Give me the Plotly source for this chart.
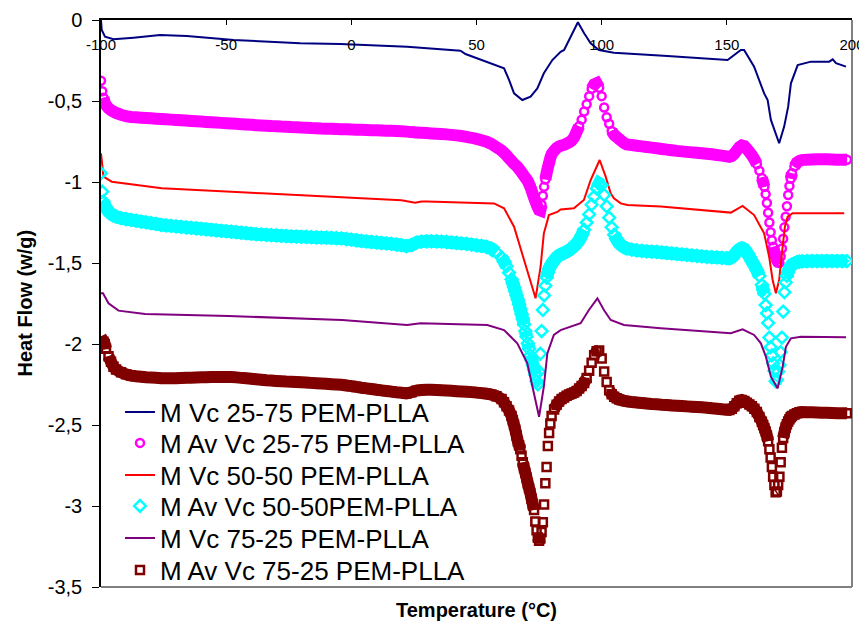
import plotly.graph_objects as go

# ---------------- data ----------------
X_TICKS = [-100, -50, 0, 50, 100, 150, 200]
X_TICK_TEXT = ["-100", "-50", "0", "50", "100", "150", "200"]
Y_TICKS = [0, -0.5, -1, -1.5, -2, -2.5, -3, -3.5]
Y_TICK_TEXT = ["0", "-0,5", "-1", "-1,5", "-2", "-2,5", "-3", "-3,5"]

NAMES = ["M Vc 25-75 PEM-PLLA", "M Av Vc 25-75 PEM-PLLA", "M Vc 50-50 PEM-PLLA",
         "M Av Vc 50-50PEM-PLLA", "M Vc 75-25 PEM-PLLA", "M Av Vc 75-25 PEM-PLLA"]

# line series (own temperature points)
vc2575_t = [-100, -99.7, -98.4, -95, -87, -76.4, -65.7, -47, -20.4, -4.4, 22.3, 43.6, 45.6, 54.3,
            61, 63, 65, 68.3, 71.6, 74.3, 76.9, 80.3, 83.6, 85, 87.6, 90.5, 93, 95.6, 98.9, 104.9,
            126.3, 150.3, 155.6, 156.9, 160.9, 164.9, 166.3, 167.6, 170.9, 172.9, 174.5, 175.6,
            178.3, 183.6, 190.9, 192.3, 193.6, 197.6]
vc2575_v = [0, -0.062, -0.103, -0.119, -0.109, -0.093, -0.099, -0.123, -0.144, -0.148, -0.165, -0.19,
            -0.21, -0.257, -0.298, -0.37, -0.453, -0.494, -0.473, -0.422, -0.329, -0.247, -0.196,
            -0.185, -0.103, -0.014, -0.082, -0.144, -0.185, -0.202, -0.222, -0.247, -0.185, -0.185,
            -0.288, -0.453, -0.494, -0.617, -0.761, -0.658, -0.535, -0.391, -0.278, -0.257, -0.257,
            -0.243, -0.267, -0.288]

vc5050_t = [-100, -99, -95.7, -75.7, -35.7, -3.7, 20, 25.5, 28, 30.3, 57, 61, 65, 69, 72.3, 73.6,
            75.6, 76.3, 76.9, 78.3, 78.9, 82.3, 83.6, 88.9, 92.9, 95.6, 99.2, 101.6, 103.6, 104.9,
            107.6, 110.3, 123.6, 151.6, 156.3, 160.9, 164.9, 166.9, 168.3, 169.6, 170.9, 172.3,
            173.2, 174.3, 176.3, 196.9]
vc5050_v = [-0.823, -0.967, -0.998, -1.039, -1.07, -1.095, -1.113, -1.128, -1.12, -1.121, -1.132,
            -1.162, -1.276, -1.481, -1.646, -1.718, -1.523, -1.40, -1.317, -1.24, -1.204, -1.185,
            -1.17, -1.162, -1.111, -0.988, -0.864, -0.967, -1.07, -1.10, -1.132, -1.142, -1.152,
            -1.189, -1.148, -1.204, -1.317, -1.461, -1.605, -1.687, -1.605, -1.399, -1.276, -1.214,
            -1.193, -1.193]

vc7525_t = [-100, -99.2, -97, -93, -82.4, -49, -3.7, 22.3, 27.6, 54.3, 61, 66.3, 70.3, 73, 75, 76.9,
            78.3, 80.9, 83.6, 91.6, 94.9, 98.3, 100.9, 103.6, 108.9, 123.6, 151.6, 156.3, 160.9,
            163.6, 165.6, 167.6, 170.3, 172.3, 173.6, 175.6, 179.6, 197.6]
vc7525_v = [-1.687, -1.687, -1.749, -1.794, -1.815, -1.827, -1.852, -1.883, -1.872, -1.883, -1.914,
            -1.996, -2.119, -2.304, -2.449, -2.263, -2.058, -1.944, -1.914, -1.872, -1.79, -1.718,
            -1.79, -1.852, -1.883, -1.903, -1.934, -1.909, -1.944, -1.996, -2.078, -2.202, -2.274,
            -2.14, -2.017, -1.965, -1.955, -1.959]

# marker series share one temperature grid
av_t = [
    -100, -99.5, -99, -98.5, -98, -97, -96, -95, -94, -92, -90,
    -88, -86, -84, -82, -80, -78, -76, -74, -72, -70,
    -68, -66, -64, -62, -60, -58, -56, -54, -52, -50,
    -48, -46, -44, -42, -40, -38, -36, -34, -32, -30,
    -28, -26, -24, -22, -20, -18, -16, -14, -12, -10,
    -8, -6, -4, -2, 0, 2, 4, 6, 8, 10,
    12, 14, 16, 18, 20, 22, 24, 26, 28, 30,
    32, 34, 36, 38, 40, 42, 44, 46, 48, 50,
    52, 54, 56, 58, 60, 61, 62, 63, 64,
    64.5, 65, 65.5, 66, 66.5, 67, 67.5, 68, 68.5, 69,
    69.5, 70, 70.5, 71, 71.5, 72, 72.5, 73, 73.5, 74,
    74.5, 75, 75.5, 76, 76.5, 77, 77.5, 78, 78.5, 79,
    79.5, 80,
    81, 82, 83, 84, 85, 86, 87, 88, 89, 90,
    91, 92, 93, 94, 95, 96, 97, 98, 99, 100,
    101, 102, 103, 104, 105, 106, 107, 108, 109, 110,
    112, 114, 116, 118, 120, 122, 124, 126, 128, 130,
    132, 134, 136, 138, 140, 142, 144, 146, 148, 150,
    151, 152, 153, 154, 155, 156, 157, 158, 159, 160, 161, 162, 163, 164,
    164.5, 165, 165.5, 166, 166.5, 167, 167.5, 168, 168.5, 169,
    169.5, 170, 170.5, 171, 171.5, 172, 172.5, 173, 173.5, 174,
    174.5, 175, 175.5, 176,
    177, 178, 179, 180, 182, 184, 186, 188, 190, 192, 194, 196, 198]

av2575_v = [
    -0.375, -0.44, -0.48, -0.51, -0.525, -0.545, -0.557, -0.566, -0.574, -0.585, -0.594,
    -0.599, -0.601, -0.603, -0.605, -0.607, -0.609, -0.611, -0.613, -0.615, -0.617,
    -0.619, -0.621, -0.623, -0.625, -0.627, -0.629, -0.631, -0.633, -0.635, -0.637,
    -0.639, -0.641, -0.643, -0.645, -0.647, -0.649, -0.651, -0.653, -0.655, -0.656,
    -0.658, -0.659, -0.661, -0.662, -0.664, -0.665, -0.667, -0.668, -0.670, -0.671,
    -0.672, -0.673, -0.674, -0.675, -0.676, -0.677, -0.678, -0.679, -0.680, -0.681,
    -0.682, -0.683, -0.684, -0.685, -0.687, -0.689, -0.692, -0.694, -0.696, -0.698,
    -0.700, -0.702, -0.704, -0.706, -0.709, -0.712, -0.716, -0.721, -0.727, -0.734,
    -0.742, -0.751, -0.765, -0.785, -0.805, -0.82, -0.836, -0.853, -0.87,
    -0.879, -0.887, -0.894, -0.901, -0.91, -0.92, -0.93, -0.94, -0.951, -0.962,
    -0.973, -0.983, -0.995, -1.012, -1.03, -1.05, -1.075, -1.097, -1.118, -1.138,
    -1.157, -1.172, -1.175, -1.14, -1.085, -1.03, -0.985, -0.946, -0.91, -0.882,
    -0.85, -0.828,
    -0.808, -0.79, -0.78, -0.774, -0.77, -0.763, -0.755, -0.744, -0.725, -0.69,
    -0.655, -0.615, -0.565, -0.52, -0.47, -0.425, -0.398, -0.391, -0.418, -0.47,
    -0.54, -0.6, -0.64, -0.685, -0.71, -0.722, -0.735, -0.748, -0.76, -0.768,
    -0.772, -0.776, -0.78, -0.784, -0.788, -0.792, -0.796, -0.800, -0.804, -0.808,
    -0.811, -0.814, -0.817, -0.82, -0.823, -0.826, -0.829, -0.833, -0.837, -0.842,
    -0.845, -0.84, -0.825, -0.805, -0.785, -0.774, -0.778, -0.795, -0.815, -0.835, -0.86, -0.89, -0.93, -0.975,
    -1.0, -1.03, -1.075, -1.13, -1.19, -1.25, -1.31, -1.36, -1.4, -1.43,
    -1.46, -1.48, -1.495, -1.5, -1.46, -1.41, -1.35, -1.28, -1.215, -1.15,
    -1.08, -1.025, -0.98, -0.945,
    -0.905, -0.88, -0.87, -0.865, -0.862, -0.861, -0.86, -0.86, -0.86, -0.861, -0.862, -0.862, -0.863]

av5050_v = [
    -0.946, -1.06, -1.12, -1.145, -1.16, -1.182, -1.197, -1.207, -1.214, -1.223, -1.229,
    -1.234, -1.239, -1.244, -1.249, -1.254, -1.259, -1.264, -1.268, -1.271, -1.274,
    -1.277, -1.280, -1.283, -1.286, -1.289, -1.292, -1.295, -1.298, -1.301, -1.304,
    -1.307, -1.310, -1.313, -1.316, -1.319, -1.322, -1.324, -1.326, -1.328, -1.330,
    -1.332, -1.334, -1.336, -1.337, -1.338, -1.339, -1.341, -1.342, -1.343, -1.344,
    -1.345, -1.347, -1.348, -1.352, -1.356, -1.360, -1.364, -1.367, -1.370, -1.373,
    -1.376, -1.379, -1.382, -1.386, -1.390, -1.396, -1.390, -1.374, -1.368, -1.366,
    -1.366, -1.367, -1.368, -1.370, -1.373, -1.376, -1.379, -1.382, -1.386, -1.391,
    -1.395, -1.400, -1.412, -1.435, -1.465, -1.49, -1.52, -1.56, -1.60,
    -1.625, -1.65, -1.675, -1.70, -1.725, -1.755, -1.785, -1.815, -1.845, -1.88,
    -1.92, -1.955, -1.995, -2.03, -2.07, -2.10, -2.13, -2.16, -2.19, -2.23,
    -2.25, -2.17, -2.06, -1.92, -1.79, -1.70, -1.64, -1.59, -1.56, -1.535,
    -1.52, -1.505,
    -1.485, -1.465, -1.452, -1.445, -1.438, -1.43, -1.422, -1.41, -1.395, -1.38,
    -1.36, -1.33, -1.295, -1.25, -1.2, -1.14, -1.09, -1.04, -1.01, -1.02,
    -1.08, -1.15, -1.22, -1.28, -1.325, -1.355, -1.378, -1.393, -1.403, -1.41,
    -1.418, -1.422, -1.425, -1.428, -1.43, -1.432, -1.435, -1.438, -1.441, -1.444,
    -1.447, -1.45, -1.453, -1.456, -1.459, -1.462, -1.464, -1.466, -1.468, -1.47,
    -1.471, -1.465, -1.45, -1.43, -1.415, -1.409, -1.415, -1.435, -1.46, -1.49, -1.515, -1.545, -1.58, -1.635,
    -1.665, -1.69, -1.76, -1.81, -1.87, -1.96, -2.02, -2.07, -2.12, -2.165,
    -2.23, -2.22, -2.17, -2.13, -2.05, -1.96, -1.80, -1.68, -1.62, -1.58,
    -1.555, -1.535, -1.52, -1.51,
    -1.502, -1.495, -1.492, -1.49, -1.489, -1.488, -1.488, -1.488, -1.488, -1.488, -1.488, -1.488, -1.488]

av7525_v = [
    -2.00, -1.99, -1.986, -2.0, -2.03, -2.075, -2.11, -2.14, -2.158, -2.175, -2.187,
    -2.195, -2.199, -2.202, -2.205, -2.207, -2.209, -2.211, -2.212, -2.212, -2.211,
    -2.21, -2.209, -2.208, -2.207, -2.206, -2.205, -2.204, -2.203, -2.203, -2.203,
    -2.204, -2.206, -2.209, -2.212, -2.215, -2.218, -2.221, -2.224, -2.226, -2.228,
    -2.23, -2.232, -2.233, -2.234, -2.236, -2.238, -2.24, -2.242, -2.244, -2.246,
    -2.248, -2.25, -2.252, -2.256, -2.26, -2.265, -2.27, -2.274, -2.278, -2.282,
    -2.286, -2.29, -2.294, -2.298, -2.301, -2.305, -2.298, -2.288, -2.284, -2.283,
    -2.283, -2.284, -2.285, -2.287, -2.289, -2.291, -2.293, -2.295, -2.297, -2.300,
    -2.303, -2.307, -2.313, -2.322, -2.34, -2.36, -2.385, -2.41, -2.445,
    -2.47, -2.5, -2.53, -2.565, -2.6, -2.625, -2.65, -2.69, -2.73, -2.765,
    -2.795, -2.825, -2.86, -2.89, -2.92, -2.955, -2.99, -3.025, -3.095, -3.15,
    -3.195, -3.215, -3.2, -3.16, -3.1, -2.99, -2.86, -2.76, -2.63, -2.55,
    -2.49, -2.445,
    -2.405, -2.375, -2.355, -2.34, -2.33, -2.32, -2.312, -2.306, -2.3, -2.29,
    -2.275, -2.26, -2.24, -2.21, -2.165, -2.115, -2.07, -2.045, -2.04, -2.09,
    -2.17, -2.235, -2.285, -2.31, -2.325, -2.335, -2.342, -2.347, -2.351, -2.354,
    -2.358, -2.361, -2.364, -2.367, -2.37, -2.372, -2.375, -2.377, -2.379, -2.381,
    -2.383, -2.385, -2.387, -2.389, -2.391, -2.394, -2.397, -2.4, -2.403, -2.406,
    -2.407, -2.4, -2.385, -2.365, -2.35, -2.346, -2.352, -2.362, -2.373, -2.385, -2.4, -2.42, -2.45, -2.48,
    -2.5, -2.52, -2.54, -2.565, -2.6, -2.65, -2.7, -2.76, -2.82, -2.87,
    -2.915, -2.91, -2.87, -2.82, -2.73, -2.64, -2.58, -2.545, -2.515, -2.495,
    -2.478, -2.465, -2.452, -2.444,
    -2.435, -2.428, -2.422, -2.42, -2.421, -2.422, -2.423, -2.424, -2.425, -2.426, -2.427, -2.427, -2.428]

for arr in (av2575_v, av5050_v, av7525_v):
    assert len(arr) == len(av_t), (len(arr), len(av_t))

# ---------------- layout constants ----------------
# the page body has an 8 px margin, so the figure is drawn 8 px in from the corner
OFF = 8
W, H = 867 - OFF, 628 - OFF
ML, MT = 101 - OFF, 20 - OFF
MR, MB = W - (852 - OFF), H - (587 - OFF)
PW, PH = W - ML - MR, H - MT - MB
X_RANGE = [-100, 200]
Y_RANGE = [-3.5, 0]
FONT = "Liberation Sans, Arial, sans-serif"
SX = PW / (X_RANGE[1] - X_RANGE[0])
SY = PH / (Y_RANGE[1] - Y_RANGE[0])


def dense_band(xs, ys, max_px=6.5):
    """Keep a point for the underlying band only where it overlaps a neighbouring
    marker on screen (the reference markers merge into a solid band there)."""
    out = []
    n = len(xs)

    def close(i, j):
        return (((xs[j] - xs[i]) * SX) ** 2 + ((ys[j] - ys[i]) * SY) ** 2) ** 0.5 <= max_px

    for i in range(n):
        ok = (i > 0 and close(i - 1, i)) or (i < n - 1 and close(i, i + 1))
        out.append(ys[i] if ok else None)
    bx, by = [], []
    for i in range(n):
        if i > 0 and out[i] is not None and out[i - 1] is not None and not close(i - 1, i):
            bx.append(None); by.append(None)
        bx.append(xs[i]); by.append(out[i])
    return bx, by


fig = go.Figure()


def add_markers(ys, name, color, symbol, size, legend):
    bx, by = dense_band(av_t, ys)
    fig.add_trace(go.Scatter(x=bx, y=by, mode="lines", showlegend=False, hoverinfo="skip",
                             connectgaps=False,
                             line=dict(color=color, width=size + 4, simplify=False)))
    fig.add_trace(go.Scatter(x=av_t, y=ys, mode="markers", name=name, legend=legend,
                             marker=dict(symbol=symbol, size=size, color=color,
                                         line=dict(color=color, width=2.5))))


fig.add_trace(go.Scatter(x=vc2575_t, y=vc2575_v, mode="lines", name=NAMES[0], legend="legend",
                         line=dict(color="#000080", width=2)))
add_markers(av2575_v, NAMES[1], "#FF00FF", "circle-open", 8, "legend2")
fig.add_trace(go.Scatter(x=vc5050_t, y=vc5050_v, mode="lines", name=NAMES[2], legend="legend3",
                         line=dict(color="#FF0000", width=2)))
add_markers(av5050_v, NAMES[3], "#00FFFF", "diamond-open", 9, "legend4")
fig.add_trace(go.Scatter(x=vc7525_t, y=vc7525_v, mode="lines", name=NAMES[4], legend="legend5",
                         line=dict(color="#800080", width=2)))
add_markers(av7525_v, NAMES[5], "#800000", "square-open", 8, "legend6")

# one legend box per entry so that the row pitch matches the reference
ROW_PX = [412, 443, 475, 506, 538, 570]
legends = {}
for i, py in enumerate(ROW_PX):
    key = "legend" if i == 0 else f"legend{i + 1}"
    legends[key] = dict(x=(120 - OFF - ML) / PW, y=(MT + PH - (py - OFF)) / PH,
                        xanchor="left", yanchor="middle",
                        bgcolor="rgba(255,255,255,0)", borderwidth=0,
                        font=dict(size=26, family=FONT, color="black"))

fig.update_layout(
    width=W, height=H,
    margin=dict(l=ML, r=MR, t=MT, b=MB, autoexpand=False),
    plot_bgcolor="white", paper_bgcolor="white",
    font=dict(family=FONT, color="black"),
    xaxis=dict(range=X_RANGE, side="top", tickvals=X_TICKS, ticktext=X_TICK_TEXT,
               ticks="inside", ticklen=5, tickcolor="black", tickwidth=1,
               ticklabelposition="inside", ticklabeloverflow="allow", ticklabelstandoff=15,
               showline=True, linecolor="black", linewidth=1.5, automargin=False,
               showgrid=False, zeroline=False, tickfont=dict(size=15, color="black")),
    yaxis=dict(range=Y_RANGE, tickvals=Y_TICKS, ticktext=Y_TICK_TEXT,
               ticks="outside", ticklen=7, tickcolor="black", tickwidth=1,
               showline=True, linecolor="black", linewidth=1.5, automargin=False,
               showgrid=False, zeroline=False, tickfont=dict(size=20, color="black"),
               ticklabelstandoff=6),
    showlegend=True,
    shapes=[
        dict(type="line", xref="paper", yref="paper", x0=1, x1=1, y0=0, y1=1,
             line=dict(color="#808080", width=2), layer="below"),
        dict(type="line", xref="paper", yref="paper", x0=0, x1=1, y0=0, y1=0,
             line=dict(color="#808080", width=2), layer="below"),
    ],
    annotations=[
        dict(text="<b>Temperature (°C)</b>", xref="paper", yref="paper", x=0.5,
             y=(MT + PH - (610 - OFF)) / PH, xanchor="center", yanchor="middle", showarrow=False,
             font=dict(size=20, family=FONT, color="black")),
        dict(text="<b>Heat Flow (w/g)</b>", xref="paper", yref="paper",
             x=(24 - OFF - ML) / PW, y=0.5,
             xanchor="center", yanchor="middle", showarrow=False, textangle=-90,
             font=dict(size=20, family=FONT, color="black")),
    ],
    **legends,
)

fig.write_html("out.html")
